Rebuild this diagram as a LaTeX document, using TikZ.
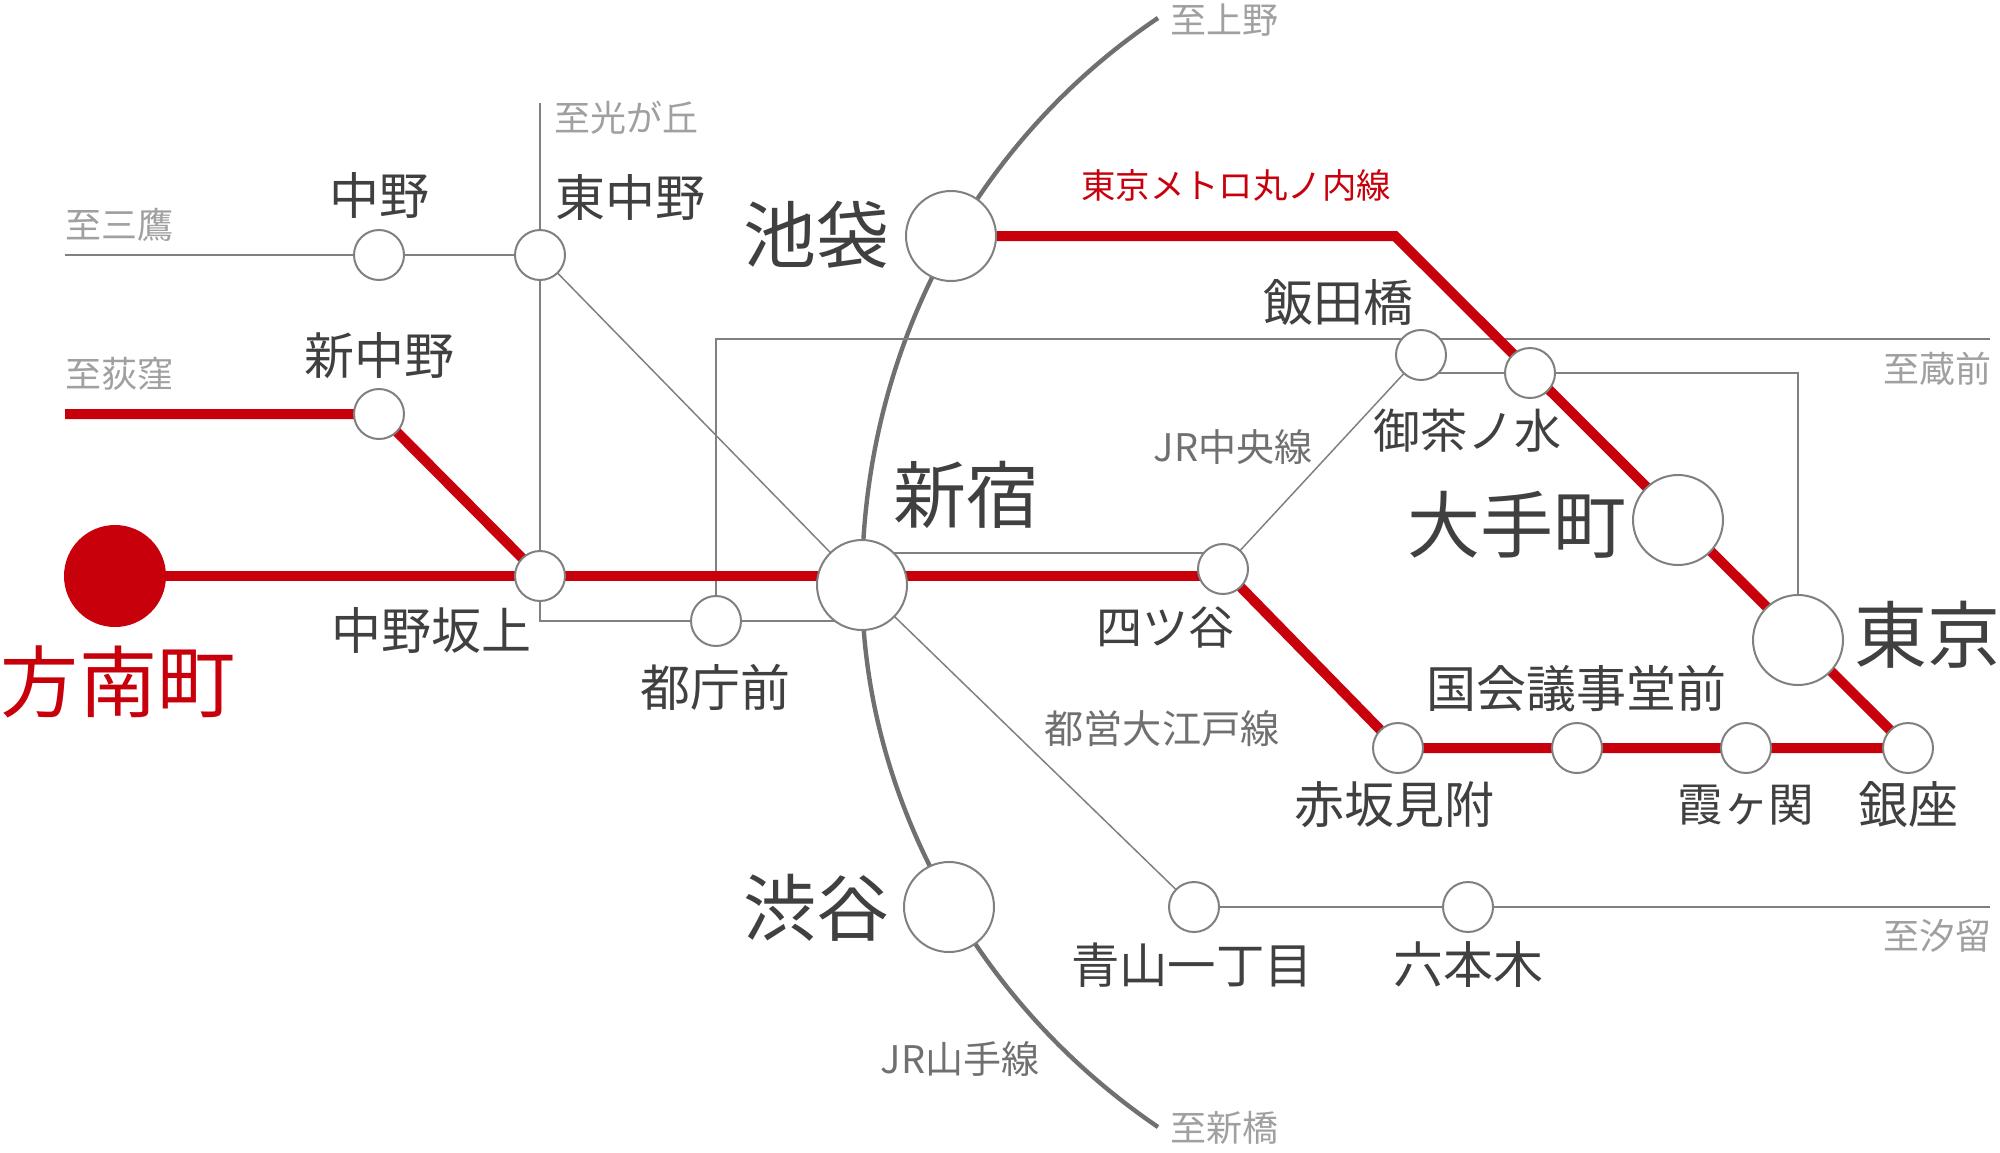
\documentclass[tikz,border=0pt]{standalone}
\usepackage{fontspec}
\setmainfont{Noto Sans CJK JP}
\usetikzlibrary{backgrounds}
\definecolor{mred}{HTML}{C8000B}
\definecolor{mtext}{HTML}{404040}
\definecolor{mgrey}{HTML}{808080}
\definecolor{mjr}{HTML}{707070}
\definecolor{mfaint}{HTML}{A0A0A0}
\newcommand{\fsz}[1]{\fontsize{#1}{#1}\selectfont}
\tikzset{
  x=0.5pt,y=-0.5pt,
  stn/.style={circle,draw=mgrey,line width=1pt,fill=white,minimum size=25pt,inner sep=0pt},
  bigstn/.style={stn,minimum size=45pt},
  lab/.style={inner sep=0pt,text=mtext,font=\fsz{25}},
  biglab/.style={inner sep=0pt,text=mtext,font=\fsz{36.5}},
  dest/.style={inner sep=0pt,text=mfaint,font=\fsz{18}},
  linename/.style={inner sep=0pt,text=mjr,font=\fsz{19}},
  redline/.style={draw=mred,line width=5pt},
  greyline/.style={draw=mgrey,line width=1pt},
  thinline/.style={draw=mgrey,line width=0.75pt},
  jrline/.style={draw=mjr,line width=2.2pt},
}
\begin{document}
\begin{tikzpicture}
\useasboundingbox (0,0) rectangle (2000,1152);
% stations
\node[stn] (nakano) at (379,255) {};
\node[stn] (higashi) at (540,255) {};
\node[stn] (shinnakano) at (379,414) {};
\node[stn] (sakaue) at (540,576) {};
\node[circle,fill=mred,minimum size=51pt,inner sep=0pt] (honancho) at (115,576) {};
\node[stn] (tocho) at (716,621) {};
\node[bigstn] (shinjuku) at (862,585) {};
\node[bigstn] (ikebukuro) at (951,236) {};
\node[bigstn] (shibuya) at (949,907) {};
\node[stn] (yotsuya) at (1223,569) {};
\node[stn] (iidabashi) at (1421,355) {};
\node[stn] (ochanomizu) at (1530,373) {};
\node[bigstn] (otemachi) at (1678,520) {};
\node[bigstn] (tokyo) at (1798,640) {};
\node[stn] (ginza) at (1908,748) {};
\node[stn] (kasumi) at (1746,748) {};
\node[stn] (kokkai) at (1577,748) {};
\node[stn] (akasaka) at (1398,748) {};
\node[stn] (aoyama) at (1194,907) {};
\node[stn] (roppongi) at (1468,907) {};
% free ends and corners
\coordinate (eMitaka) at (65,255);
\coordinate (eOgikubo) at (65,414);
\coordinate (eHikari) at (540,103);
\coordinate (eUeno) at (1158,18);
\coordinate (eShinbashi) at (1158,1127);
\coordinate (eKuramae) at (1990,339);
\coordinate (eShiodome) at (1990,907);
\coordinate (cRed) at (1395,236);
\coordinate (cJR) at (862,553);
\begin{scope}[on background layer]
  % JR Yamanote
  \draw[jrline] (eUeno) .. controls (974,142) and (862,350) .. (shinjuku.center);
  \draw[jrline] (shinjuku.center) .. controls (862,794) and (974,1002) .. (eShinbashi);
  % thin grey lines
  \draw[greyline] (eMitaka) -- (nakano.center) -- (higashi.center);
  \draw[greyline] (eHikari) -- (higashi.center) -- (sakaue.center) |- (tocho.center) -- (tocho.center -| shinjuku.center);
  \draw[thinline] (higashi.center) -- (shinjuku.center) -- (aoyama.center);
  \draw[greyline] (aoyama.center) -- (roppongi.center) -- (eShiodome);
  \draw[greyline] (tocho.center) |- (eKuramae);
  \draw[greyline] (iidabashi.center |- ochanomizu.center) -- (ochanomizu.center) -| (tokyo.center);
  \draw[greyline] (cJR) -- (cJR -| yotsuya.center);
  \draw[thinline] (yotsuya.center) -- (iidabashi.center);
  % Marunouchi line
  \draw[redline] (eOgikubo) -- (shinnakano.center) -- (sakaue.center);
  \draw[redline] (honancho.center) -- (yotsuya.center |- honancho.center);
  \draw[redline] (yotsuya.center) -- (akasaka.center) -- (kokkai.center) -- (kasumi.center) -- (ginza.center) -- (cRed) -- (ikebukuro.center);
\end{scope}
% labels
\node[lab] (tNakano) at (379,195) {中野};
\node[lab] (tHigashi) at (630,197) {東中野};
\node[lab] (tShinnakano) at (379,356) {新中野};
\node[dest] (tMitaka) at (119,225) {至三鷹};
\node[dest] (tOgikubo) at (119,374) {至荻窪};
\node[dest] (tHikari) at (626,118) {至光が丘};
\node[biglab] (tIkebukuro) at (816,235) {池袋};
\node[biglab] (tShinjuku) at (966,495) {新宿};
\node[inner sep=0pt,text=mred,font=\fsz{17.2}] (tMaru) at (1236,185) {東京メトロ丸ノ内線};
\node[lab] (tIidabashi) at (1338,302) {飯田橋};
\node[dest] (tKuramae) at (1937,369) {至蔵前};
\node[linename] (tChuo) at (1233,447) {JR中央線};
\node[lab,font=\fsz{23.5}] (tOchanomizu) at (1467,431) {御茶ノ水};
\node[biglab] (tOtemachi) at (1517,525) {大手町};
\node[lab] (tSakaue) at (431,630) {中野坂上};
\node[inner sep=0pt,text=mred,font=\fsz{39}] (tHonancho) at (118,682) {方南町};
\node[lab] (tTocho) at (715,687) {都庁前};
\node[biglab] (tShibuya) at (816,908) {渋谷};
\node[linename] (tYamanote) at (960,1059) {JR山手線};
\node[lab,font=\fsz{23}] (tYotsuya) at (1165,627) {四ツ谷};
\node[biglab] (tTokyo) at (1927,635) {東京};
\node[lab] (tKokkai) at (1576,689) {国会議事堂前};
\node[lab] (tAkasaka) at (1394,805) {赤坂見附};
\node[lab,font=\fsz{22.8}] (tKasumi) at (1746,805) {霞ヶ関};
\node[lab] (tGinza) at (1908,805) {銀座};
\node[linename,font=\fsz{19.6}] (tOedo) at (1162,729) {都営大江戸線};
\node[lab,font=\fsz{24.2}] (tAoyama) at (1192,965) {青山一丁目};
\node[lab] (tRoppongi) at (1468,965) {六本木};
\node[dest] (tShiodome) at (1937,936) {至汐留};
\node[dest] (tShinbashi) at (1224,1128) {至新橋};
\node[dest] (tUeno) at (1224,20) {至上野};
\end{tikzpicture}
\end{document}
